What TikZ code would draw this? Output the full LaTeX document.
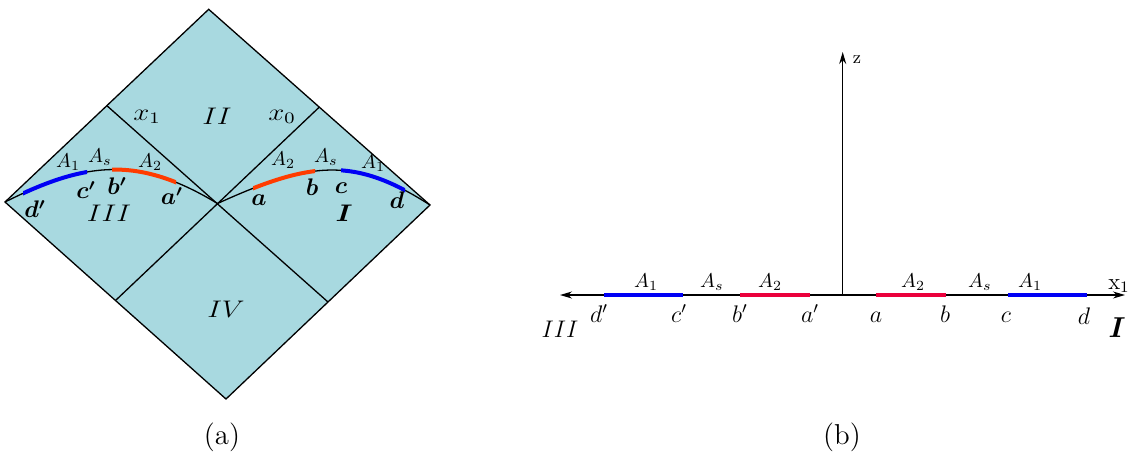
\documentclass[tikz,border=0pt]{standalone}
\usepackage{amsmath}
\usetikzlibrary{arrows.meta}
\definecolor{pfill}{RGB}{168,217,224}
\definecolor{lred}{RGB}{255,60,0}
\definecolor{rred}{RGB}{235,0,60}
\definecolor{sblue}{RGB}{0,0,245}
\begin{document}
\begin{tikzpicture}[x=0.5pt,y=-0.5pt,
  edge/.style={line width=0.65pt},
  seg/.style={line width=2pt},
  lbl/.style={inner sep=0pt,font=\fontsize{11.5}{13}\selectfont},
  big/.style={inner sep=0pt,xscale=1.2,font=\fontsize{12}{14}\selectfont},
  alab/.style={inner sep=0pt,font=\fontsize{10}{12}\selectfont},
  rlbl/.style={inner sep=0pt,anchor=base,font=\fontsize{12}{14}\selectfont},
  ralab/.style={inner sep=0pt,anchor=base,font=\fontsize{10}{12}\selectfont},
  axis/.style={line width=0.6pt,-{Stealth[length=6pt,width=3.5pt]}}]
\useasboundingbox (0,0) rectangle (1136,452);
% ---------- (a) ----------
\coordinate (T) at (208.7,9.3);
\coordinate (L) at (5,202);
\coordinate (R) at (430,205);
\coordinate (B) at (226,399);
\coordinate (C) at (217.5,203.5);
\coordinate (TL) at (106.8,105.6);
\coordinate (TR) at (319.3,107.1);
\coordinate (BL) at (115.5,300.5);
\coordinate (BR) at (328,302);
\fill[pfill] (T)--(L)--(B)--(R)--cycle;
\draw[edge,line join=miter] (T)--(L)--(B)--(R)--cycle;
\draw[edge] (TL)--(BR);
\draw[edge] (TR)--(BL);
% curves
\draw[edge] (L) .. controls (85,162) and (137.5,155) .. (C);
\draw[edge] (C) .. controls (312.5,160.25) and (355,157) .. (R);
\begin{scope}
  \clip (23,0) rectangle (87,452);
  \draw[seg,sblue] (L) .. controls (85,162) and (137.5,155) .. (C);
\end{scope}
\begin{scope}
  \clip (112,0) rectangle (176,452);
  \draw[seg,lred] (L) .. controls (85,162) and (137.5,155) .. (C);
\end{scope}
\begin{scope}
  \clip (253,0) rectangle (315,452);
  \draw[seg,lred] (C) .. controls (312.5,160.25) and (355,157) .. (R);
\end{scope}
\begin{scope}
  \clip (341,0) rectangle (405,452);
  \draw[seg,sblue] (C) .. controls (312.5,160.25) and (355,157) .. (R);
\end{scope}
% labels
\node[big] (lx1) at (147,117) {$x_1$};
\node[big] (lII) at (217,116) {$II$};
\node[big] (lx0) at (282,117) {$x_0$};
\node[big] (lIII) at (109,213) {$III$};
\node[big] (lI) at (344,213) {$\boldsymbol{I}$};
\node[big] (lIV) at (226,309) {$IV$};
\node[alab] (lA1L) at (68,162) {$A_1$};
\node[alab] (lAsL) at (100,157) {$A_s$};
\node[alab] (lA2L) at (150,162) {$A_2$};
\node[lbl] (lcpL) at (86,190) {$\boldsymbol{c'}$};
\node[lbl] (lbpL) at (117,186) {$\boldsymbol{b'}$};
\node[lbl] (lapL) at (172,196) {$\boldsymbol{a'}$};
\node[lbl] (ldpL) at (35,209) {$\boldsymbol{d'}$};
\node[alab] (lA2R) at (283,160) {$A_2$};
\node[alab] (lAsR) at (326,157) {$A_s$};
\node[alab] (lA1R) at (373,163) {$A_1$};
\node[lbl] (laR) at (259,200) {$\boldsymbol{a}$};
\node[lbl] (lbR) at (312,187) {$\boldsymbol{b}$};
\node[lbl] (lcR) at (341,188) {$\boldsymbol{c}$};
\node[lbl] (ldR) at (397,200) {$\boldsymbol{d}$};
\node[inner sep=0pt,font=\Large] (capa) at (222,437) {(a)};
% ---------- (b) ----------
\coordinate (O) at (842.7,295);
\coordinate (xl) at (560,295);
\coordinate (xr) at (1125,295);
\coordinate (zt) at (842.7,52);
\draw[axis] (O)--(xr);
\draw[axis] (O)--(xl);
\draw[axis] (O)--(zt);
\coordinate (pdp) at (604,295);
\coordinate (pcp) at (683,295);
\coordinate (pbp) at (740,295);
\coordinate (pap) at (810,295);
\coordinate (pa) at (876,295);
\coordinate (pb) at (946,295);
\coordinate (pc) at (1008,295);
\coordinate (pd) at (1087,295);
\draw[seg,sblue] (pdp)--(pcp);
\draw[seg,rred] (pbp)--(pap);
\draw[seg,rred] (pa)--(pb);
\draw[seg,sblue] (pc)--(pd);
\node[inner sep=0pt,font=\small] (zlab) at (857,60) {z};
\node[lbl] (x1lab) at (1119,286) {x$_1$};
\node[inner sep=0pt,font=\fontsize{15}{17}\selectfont] (rI) at (1117,328) {$\boldsymbol{I}$};
\node[inner sep=0pt,font=\fontsize{13}{15}\selectfont] (rIII) at (560,329) {$III$};
\node[rlbl] (rdp) at (599,322) {$d'$};
\node[rlbl] (rcp) at (679,322) {$c'$};
\node[rlbl] (rbp) at (740,322) {$b'$};
\node[rlbl] (rap) at (810,322) {$a'$};
\node[rlbl] (ra) at (876,322) {$a$};
\node[rlbl] (rb) at (945,322) {$b$};
\node[rlbl] (rc) at (1006,322) {$c$};
\node[rlbl] (rd) at (1084,324) {$d$};
\node[ralab] (rA1L) at (646,287) {$A_1$};
\node[ralab] (rAsL) at (712,287) {$A_s$};
\node[ralab] (rA2L) at (770,287) {$A_2$};
\node[ralab] (rA2R) at (913,287) {$A_2$};
\node[ralab] (rAsR) at (980,287) {$A_s$};
\node[ralab] (rA1R) at (1030,287) {$A_1$};
\node[inner sep=0pt,font=\Large] (capb) at (842,437) {(b)};
\end{tikzpicture}
\end{document}
